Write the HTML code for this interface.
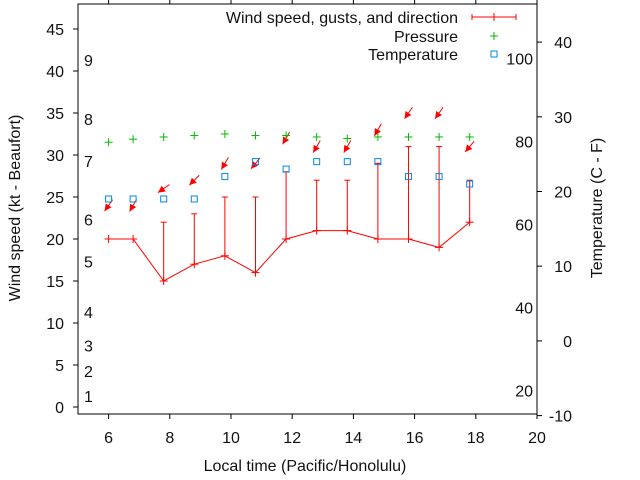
<!DOCTYPE html>
<html><head><meta charset="utf-8"><style>
html,body{margin:0;padding:0;background:#fff;}
svg{display:block;font-family:"Liberation Sans",sans-serif;}
</style></head><body>
<svg id="chart" width="640" height="480" viewBox="0 0 640 480" xmlns="http://www.w3.org/2000/svg">
<rect x="0" y="0" width="640" height="480" fill="#fff"/>
<g id="axes"></g>
<g id="series"></g>
<g id="legend"></g>
</svg>
<script>
const times = [6, 6.8, 7.8, 8.8, 9.8, 10.8, 11.8, 12.8, 13.8, 14.8, 15.8, 16.8, 17.8];
const windSpeed = [20, 20, 15, 17, 18, 16, 20, 21, 21, 20, 20, 19, 22];
const gusts = [null, null, 22, 23, 25, 25, 28, 27, 27, 29, 31, 31, 27];
const windDir = [35, 30, 55, 45, 30, 40, 30, 30, 30, 30, 35, 35, 40];
const temperatureC = [19, 19, 19, 19, 22, 24, 23, 24, 24, 24, 22, 22, 21];
const pressureScaled = [26.6, 27.0, 27.3, 27.5, 27.7, 27.5, 27.5, 27.3, 27.1, 27.3, 27.3, 27.3, 27.3];
const xTicks = [6, 8, 10, 12, 14, 16, 18, 20];
const yTicks = [0, 5, 10, 15, 20, 25, 30, 35, 40, 45];
const beaufortLabels = [1, 2, 3, 4, 5, 6, 7, 8, 9];
const beaufortKt = [1.3, 4.3, 7.3, 11.3, 17.3, 22.3, 29.3, 34.3, 41.3];
const y2Ticks = [-10, 0, 10, 20, 30, 40];
const fTicks = [20, 40, 60, 80, 100];

const L = 78, R = 537, T = 4, B = 414;
const X = v => L + (v - 5) * (R - L) / 15;
const Y = v => 407 - v * 8.4;
const Y2 = v => 415.6 - (v + 10) * 7.47;
const NS = "http://www.w3.org/2000/svg";
function mk(tag, attrs, parent, text) {
  const e = document.createElementNS(NS, tag);
  for (const k in attrs) e.setAttribute(k, attrs[k]);
  if (text !== undefined) e.textContent = text;
  parent.appendChild(e);
  return e;
}
const ax = document.getElementById('axes');
const se = document.getElementById('series');
const lg = document.getElementById('legend');
const FS = 16;
const TC = '#111';

let b = mk('rect', {x: L, y: T, width: R - L, height: B - T, fill: 'none', stroke: '#000', 'stroke-width': 1}, ax);



xTicks.forEach(v => {
  const x = X(v);
  mk('line', {x1: x, y1: B, x2: x, y2: B + 5, stroke: '#000'}, ax);
  mk('line', {x1: x, y1: T, x2: x, y2: T - 5, stroke: '#000'}, ax);
  const t = mk('text', {x: x, y: B + 29, 'text-anchor': 'middle', 'font-size': FS, fill: TC}, ax, v);
  
  
});
yTicks.forEach(v => {
  const y = Y(v);
  mk('line', {x1: L - 5, y1: y, x2: L, y2: y, stroke: '#000'}, ax);
  const t = mk('text', {x: 64, y: y + 6, 'text-anchor': 'end', 'font-size': FS, fill: TC}, ax, v);
  
  
});
beaufortLabels.forEach((v, i) => {
  const t = mk('text', {x: 84, y: Y(beaufortKt[i]) + 6, 'font-size': FS, fill: TC}, ax, v);
  
  
});
y2Ticks.forEach(v => {
  const y = Y2(v);
  mk('line', {x1: R, y1: y, x2: R + 5, y2: y, stroke: '#000'}, ax);
  const t = mk('text', {x: 572, y: y + 6, 'text-anchor': 'end', 'font-size': FS, fill: TC}, ax, v);
  
  
});
fTicks.forEach(v => {
  const c = (v - 32) * 5 / 9;
  const t = mk('text', {x: 533, y: Y2(c) + 6, 'text-anchor': 'end', 'font-size': FS, fill: TC}, ax, v);
  
  
});
let t1 = mk('text', {x: 305, y: 471, 'text-anchor': 'middle', 'font-size': FS, fill: TC}, ax, 'Local time (Pacific/Honolulu)');


let t2 = mk('text', {x: 0, y: 0, 'text-anchor': 'middle', 'font-size': FS, fill: TC, transform: 'translate(20,208) rotate(-90)'}, ax, 'Wind speed (kt - Beaufort)');


let t3 = mk('text', {x: 0, y: 0, 'text-anchor': 'middle', 'font-size': FS, fill: TC, transform: 'translate(602,208) rotate(-90)'}, ax, 'Temperature (C - F)');



const RED = '#f00', GREEN = '#0b0', BLUE = '#08e';
let pts = times.map((t, i) => X(t) + ',' + Y(windSpeed[i])).join(' ');
let wl = mk('polyline', {points: pts, fill: 'none', stroke: RED, 'stroke-width': 1}, se);


times.forEach((t, i) => {
  const x = X(t), y = Y(windSpeed[i]);
  const g = mk('g', {}, se);
  
  
  mk('line', {x1: x - 4, y1: y, x2: x + 4, y2: y, stroke: RED}, g);
  mk('line', {x1: x, y1: y - 4, x2: x, y2: y + 4, stroke: RED}, g);
  if (gusts[i] !== null) {
    const gy = Y(gusts[i]);
    mk('line', {x1: x, y1: y, x2: x, y2: gy, stroke: RED}, g);
    mk('line', {x1: x - 3, y1: gy, x2: x + 3, y2: gy, stroke: RED}, g);
  }
  const top = gusts[i] !== null ? gusts[i] : windSpeed[i];
  const cy = Y(top + 4), cx = x;
  const a = windDir[i] * Math.PI / 180;
  const dx = Math.sin(a) * 7, dy = -Math.cos(a) * 7;
  const tx = cx + dx, ty = cy + dy, hx = cx - dx, hy = cy - dy;
  const ar = mk('g', {}, se);
  
  
  mk('line', {x1: tx, y1: ty, x2: hx, y2: hy, stroke: RED}, ar);
  const ux = -dx / 7, uy = -dy / 7, px = -uy, py = ux;
  const bx = hx - ux * 7, by = hy - uy * 7;
  mk('polygon', {points: hx + ',' + hy + ' ' + (bx + px * 3.5) + ',' + (by + py * 3.5) + ' ' + (bx - px * 3.5) + ',' + (by - py * 3.5), fill: RED}, ar);
});
times.forEach((t, i) => {
  const x = X(t), y = Y2(pressureScaled[i]);
  const g = mk('g', {}, se);
  
  
  mk('line', {x1: x - 4, y1: y, x2: x + 4, y2: y, stroke: GREEN}, g);
  mk('line', {x1: x, y1: y - 4, x2: x, y2: y + 4, stroke: GREEN}, g);
});
times.forEach((t, i) => {
  const x = X(t), y = Y2(temperatureC[i]);
  const r = mk('rect', {x: x - 3, y: y - 3, width: 6, height: 6, fill: 'none', stroke: BLUE}, se);
  
  
});
const legRows = [['Wind speed, gusts, and direction', 17], ['Pressure', 36], ['Temperature', 54]];
legRows.forEach((r, i) => {
  const t = mk('text', {x: 458, y: r[1] + 6, 'text-anchor': 'end', 'font-size': FS, fill: TC}, lg, r[0]);
  
  
});
mk('line', {x1: 472, y1: 17, x2: 516, y2: 17, stroke: RED}, lg);
mk('line', {x1: 472, y1: 14, x2: 472, y2: 20, stroke: RED}, lg);
mk('line', {x1: 516, y1: 14, x2: 516, y2: 20, stroke: RED}, lg);
mk('line', {x1: 494, y1: 13, x2: 494, y2: 21, stroke: RED}, lg);
mk('line', {x1: 490, y1: 36, x2: 498, y2: 36, stroke: GREEN}, lg);
mk('line', {x1: 494, y1: 32, x2: 494, y2: 40, stroke: GREEN}, lg);
mk('rect', {x: 491, y: 51, width: 6, height: 6, fill: 'none', stroke: BLUE}, lg);
</script>
</body></html>
